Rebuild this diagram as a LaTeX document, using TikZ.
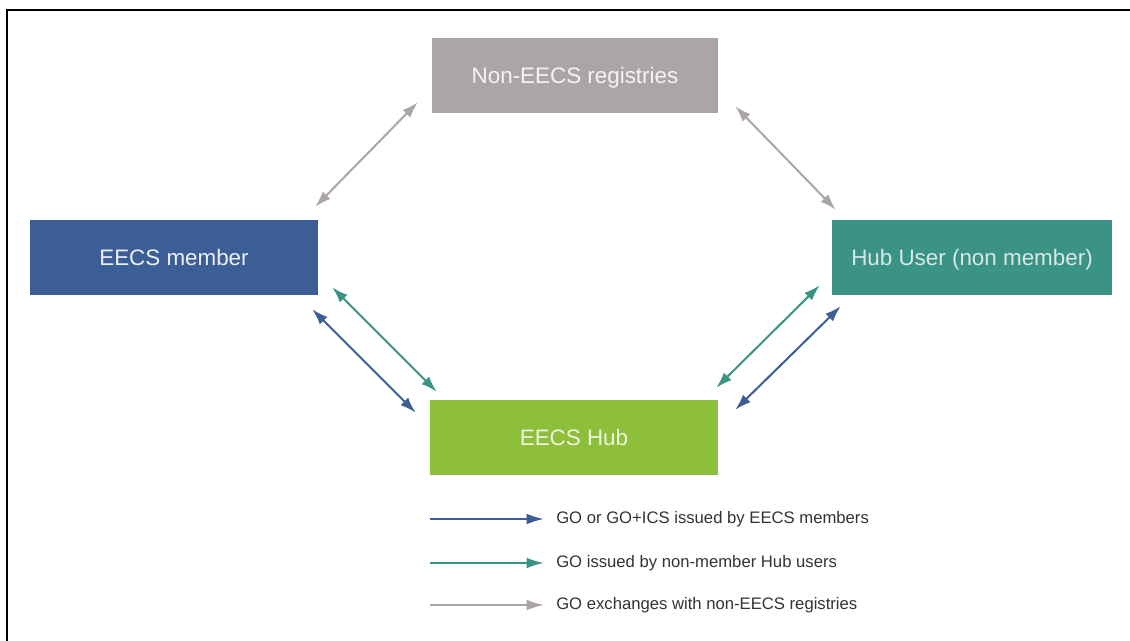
\documentclass[tikz,border=0pt]{standalone}
\usepackage{fontspec}
\setmainfont{Liberation Sans}
\usepackage{tikz}
\usetikzlibrary{shapes,arrows.meta}
\definecolor{regrey}{HTML}{ABA6A5}
\definecolor{eecsblue}{HTML}{3C5E96}
\definecolor{hubteal}{HTML}{3A9384}
\definecolor{hubgreen}{HTML}{8DBF3A}
\tikzstyle{party}=[rectangle, minimum height=75*0.75pt, text depth=0pt,
                   font=\fontsize{16.8}{19}\selectfont]
\tikzstyle{flow} =[line width=1.5pt, {Latex[length=12pt,width=8pt]}-{Latex[length=12pt,width=8pt]}]
\tikzstyle{key}  =[line width=1.5pt, -{Latex[length=13pt,width=8pt]}]
\tikzstyle{legend}=[anchor=west, inner sep=0pt, font=\fontsize{12.5}{15}\selectfont, text=black!80]

\begin{document}
\begin{tikzpicture}[x=0.75pt, y=-0.75pt]
    \useasboundingbox (0,0) rectangle (1130,641);
    \draw [line width=2pt] (7,641) -- (7,10) -- (1130,10);
    \node [party, fill=regrey, text=white!88!regrey, minimum width=286*0.75pt] at (575,75.5)   (nonreg)  {Non-EECS registries};
    \node [party, fill=eecsblue, text=white!90!eecsblue, minimum width=288*0.75pt] at (174,257.5) (member)  {EECS member};
    \node [party, fill=hubteal, text=white!80!hubteal, minimum width=280*0.75pt] at (972,257.5)  (hubuser) {Hub User (non member)};
    \node [party, fill=hubgreen, text=white!85!hubgreen, minimum width=288*0.75pt] at (574,437.5) (hub)     {EECS Hub};
    \path [flow, draw=regrey, color=regrey]     ([shift={(-14,-11)}]nonreg.south west) -- ([shift={(-3,-13)}]member.north east);
    \path [flow, draw=regrey, color=regrey]     ([shift={(17,-7)}]nonreg.south east) -- ([shift={(4,-10)}]hubuser.north west);
    \path [flow, draw=eecsblue, color=eecsblue] ([shift={(-6,14)}]member.south east) -- ([shift={(-14,13)}]hub.north west);
    \path [flow, draw=hubteal, color=hubteal]   ([shift={(14,-8)}]member.south east) -- ([shift={(7,-8)}]hub.north west);
    \path [flow, draw=hubteal, color=hubteal]   ([shift={(-12,-10)}]hubuser.south west) -- ([shift={(-2,-12)}]hub.north east);
    \path [flow, draw=eecsblue, color=eecsblue] ([shift={(9,11)}]hubuser.south west) -- ([shift={(17,10)}]hub.north east);
    \node [legend] at (556,519) (keyblue)  {GO or GO+ICS issued by EECS members};
    \node [legend] at (556,563) (keyteal)  {GO issued by non-member Hub users};
    \node [legend] at (556,605) (keygrey)  {GO exchanges with non-EECS registries};
    \path [key, draw=eecsblue, color=eecsblue] ([shift={(-126,0)}]keyblue.west) -- ([shift={(-12,0)}]keyblue.west);
    \path [key, draw=hubteal, color=hubteal]   ([shift={(-126,0)}]keyteal.west) -- ([shift={(-12,0)}]keyteal.west);
    \path [key, draw=regrey, color=regrey]     ([shift={(-126,0)}]keygrey.west) -- ([shift={(-12,0)}]keygrey.west);
\end{tikzpicture}
\end{document}
